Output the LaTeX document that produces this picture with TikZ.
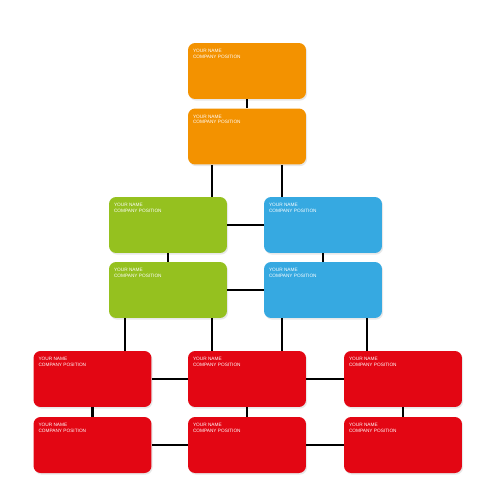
\documentclass[tikz,border=0pt]{standalone}
\usepackage{fontspec}
\setmainfont{Liberation Sans}
\usetikzlibrary{shadows}
\definecolor{orgorange}{HTML}{F39200}
\definecolor{orggreen}{HTML}{95C11F}
\definecolor{orgblue}{HTML}{36A9E1}
\definecolor{orgred}{HTML}{E30613}
\newcommand{\orgtext}{\parbox[t][0.86cm][t]{2.16cm}{\fontsize{2.7}{3.0}\selectfont YOUR NAME\\COMPANY POSITION}}
\tikzset{
  orgbox/.style={fill=#1, text=white, rounded corners=4pt,
    minimum width=2.36cm, minimum height=1.12cm,
    inner xsep=0.1cm, inner ysep=0.12cm,
    drop shadow={shadow xshift=0.6pt, shadow yshift=-0.9pt, opacity=0.18}},
  link/.style={line width=1.7pt, black}
}
\begin{document}
\begin{tikzpicture}[x=0.02cm, y=-0.02cm]
		\useasboundingbox[fill=white] (0,0) rectangle (500,500);
		% top
		\node[orgbox=orgorange] (o1) at (247,71) {\orgtext};
		\node[orgbox=orgorange] (o2) at (247,136.5) {\orgtext};
		% middle
		\node[orgbox=orggreen] (g1) at (168,225) {\orgtext};
		\node[orgbox=orggreen] (g2) at (168,290) {\orgtext};
		\node[orgbox=orgblue] (b1) at (323,225) {\orgtext};
		\node[orgbox=orgblue] (b2) at (323,290) {\orgtext};
		% bottom
		\node[orgbox=orgred] (r1) at (92.5,379) {\orgtext};
		\node[orgbox=orgred] (r2) at (247,379) {\orgtext};
		\node[orgbox=orgred] (r3) at (403,379) {\orgtext};
		\node[orgbox=orgred] (r4) at (92.5,445) {\orgtext};
		\node[orgbox=orgred] (r5) at (247,445) {\orgtext};
		\node[orgbox=orgred] (r6) at (403,445) {\orgtext};
		% connectors
		\draw[link] (o1.south)--(o2.north);
		\draw[link] (o2.south -| 212,0)--(g1.north -| 212,0);
		\draw[link] (o2.south -| 282,0)--(b1.north -| 282,0);
		\draw[link] (g1.south)--(g2.north);
		\draw[link] (b1.south)--(b2.north);
		\draw[link] (g1.east)--(b1.west);
		\draw[link] (g2.east)--(b2.west);
		\draw[link] (g2.south -| 125,0)--(r1.north -| 125,0);
		\draw[link] (g2.south -| 212,0)--(r2.north -| 212,0);
		\draw[link] (b2.south -| 282,0)--(r2.north -| 282,0);
		\draw[link] (b2.south -| 367,0)--(r3.north -| 367,0);
		\draw[link] (r1.east)--(r2.west);
		\draw[link] (r2.east)--(r3.west);
		\draw[link] (r4.east)--(r5.west);
		\draw[link] (r5.east)--(r6.west);
		\draw[link] (r1.south)--(r4.north);
		\draw[link] (r2.south)--(r5.north);
		\draw[link] (r3.south)--(r6.north);
\end{tikzpicture}
\end{document}
